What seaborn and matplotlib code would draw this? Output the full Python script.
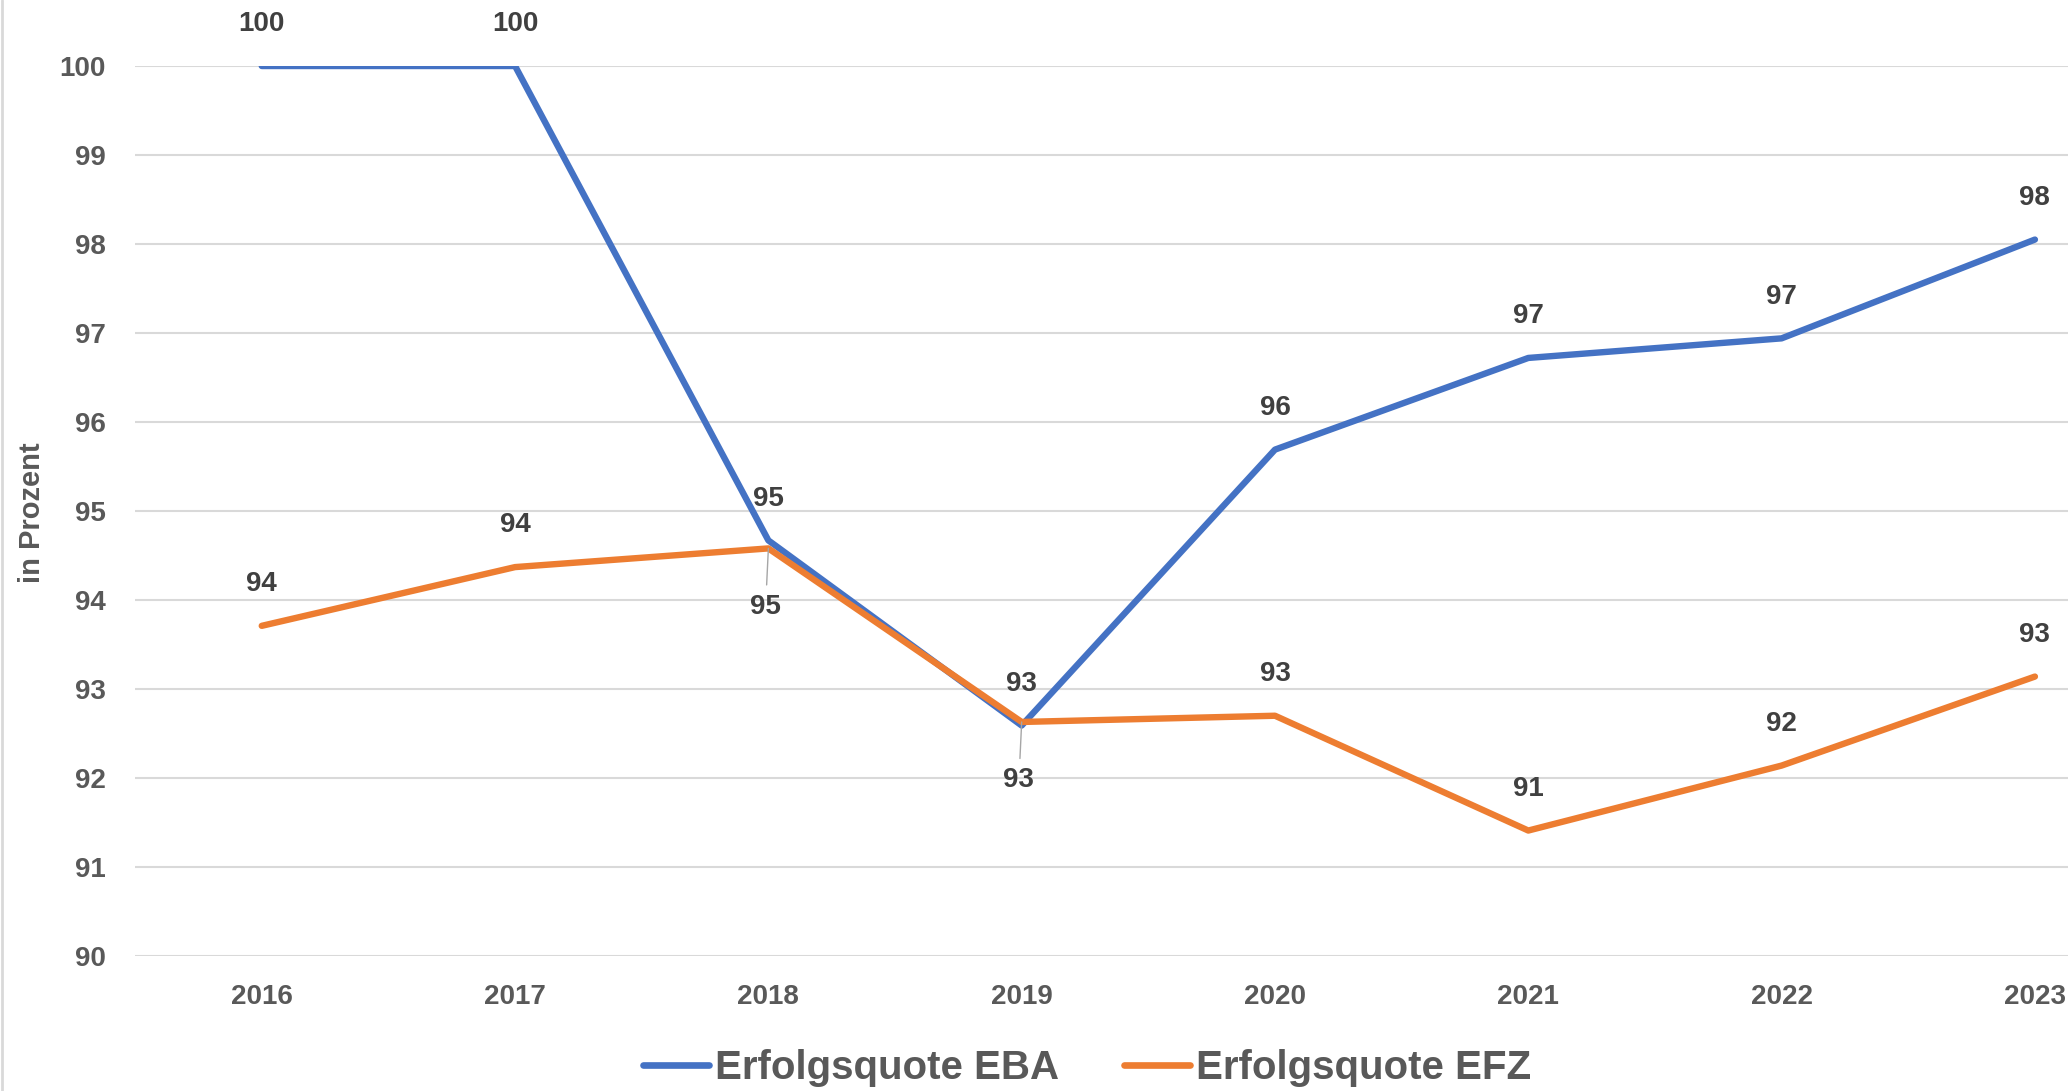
import matplotlib
matplotlib.use("Agg")
import matplotlib.pyplot as plt
from matplotlib.lines import Line2D
import seaborn as sns
import pandas as pd

# Daten
jahre = ["2016", "2017", "2018", "2019", "2020", "2021", "2022", "2023"]
quote_eba = [100.0, 100.0, 94.67, 92.59, 95.69, 96.72, 96.94, 98.05]
quote_efz = [93.71, 94.37, 94.58, 92.63, 92.70, 91.41, 92.14, 93.14]
serien = ["Erfolgsquote EBA", "Erfolgsquote EFZ"]
farben = {"Erfolgsquote EBA": "#4472C4", "Erfolgsquote EFZ": "#ED7D31"}

df = pd.DataFrame({
    "Jahr": jahre * 2,
    "Quote": quote_eba + quote_efz,
    "Serie": [serien[0]] * len(jahre) + [serien[1]] * len(jahre),
})

sns.set_style("white")
plt.rcParams["font.family"] = ["Liberation Sans", "DejaVu Sans"]
plt.rcParams["font.weight"] = "bold"

fig = plt.figure(figsize=(20.72, 10.91), dpi=100)
ax = fig.add_axes([0.0652, 0.1237, 0.9328, 0.8158])

sns.lineplot(data=df, x="Jahr", y="Quote", hue="Serie", palette=farben,
             linewidth=4.6, ax=ax, legend=False, sort=False)
for ln in ax.lines:
    ln.set_solid_capstyle("round")
    ln.set_solid_joinstyle("round")

ax.set_ylim(90, 100)
ax.set_xlim(-0.5, 7.13)
ax.set_yticks(range(90, 101))
ax.yaxis.grid(True, color="#D9D9D9", linewidth=1.5)
ax.set_axisbelow(True)
for s in ax.spines.values():
    s.set_visible(False)
ax.tick_params(axis="both", length=0, labelsize=20, labelcolor="#595959")
ax.tick_params(axis="y", pad=21)
ax.tick_params(axis="x", pad=20)
ax.set_xlabel("")
ax.set_ylabel("")

# Datenbeschriftungen
txt = dict(ha="center", va="center", fontsize=20, color="#404040",
           fontweight="bold", annotation_clip=False)
for i, v in enumerate(quote_eba):
    ax.annotate(f"{v:.0f}", (i, v), xytext=(0, 30), textcoords="offset points", **txt)
for i, v in enumerate(quote_efz):
    if jahre[i] in ("2018", "2019"):
        ax.annotate(f"{v:.0f}", (i, v), xytext=(-2, -42), textcoords="offset points",
                    arrowprops=dict(arrowstyle="-", color="#A6A6A6", lw=1,
                                    shrinkA=4, shrinkB=0), **txt)
    else:
        ax.annotate(f"{v:.0f}", (i, v), xytext=(0, 30), textcoords="offset points", **txt)

fig.text(0.0155, 0.530, "in Prozent", rotation=90, ha="center", va="center",
         fontsize=21, color="#595959", fontweight="bold")

handles = [Line2D([0], [0], color=farben[s], lw=4.8, solid_capstyle="round") for s in serien]
fig.legend(handles, serien, loc="center", bbox_to_anchor=(0.5246, 0.021),
           frameon=False, ncol=2, fontsize=29, handlelength=1.65, handletextpad=0.15,
           columnspacing=1.6, borderpad=0, labelcolor="#595959")

fig.add_artist(Line2D([0.001, 0.001], [0, 1], transform=fig.transFigure,
                      color="#D9D9D9", lw=2))

fig.savefig("out.png", dpi=100)
